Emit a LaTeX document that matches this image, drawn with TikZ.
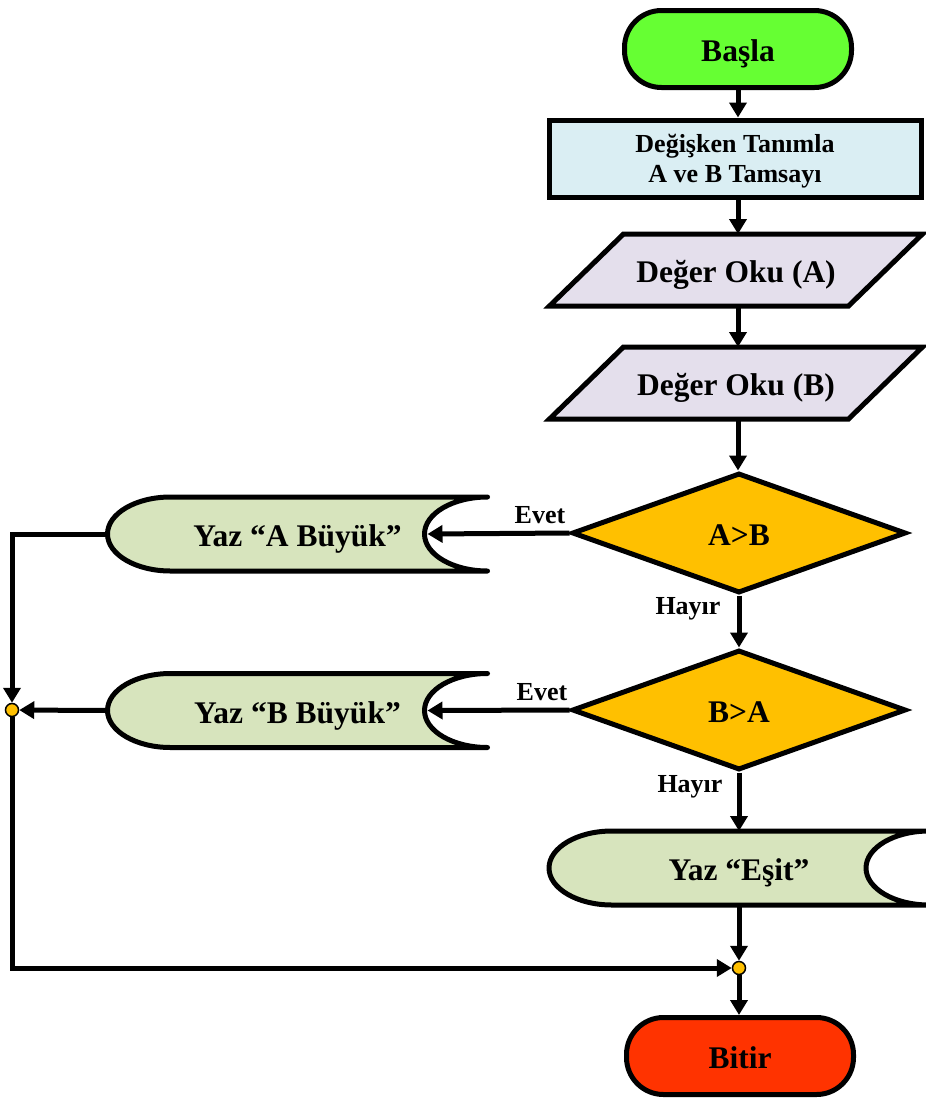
\documentclass[tikz,border=0pt]{standalone}
\usepackage{fontspec}
\setmainfont{Liberation Serif}
\usetikzlibrary{shapes.geometric,arrows.meta,calc}
\definecolor{startgreen}{HTML}{66FF33}
\definecolor{declblue}{HTML}{DAEEF3}
\definecolor{inputlav}{HTML}{E4DFEC}
\definecolor{decgold}{HTML}{FFC000}
\definecolor{outgreen}{HTML}{D7E4BD}
\definecolor{endred}{HTML}{FF3300}
\begin{document}
\begin{tikzpicture}[x=1pt,y=-1pt,line width=5pt,
  big/.style={font=\fontsize{31.5}{37}\selectfont\bfseries,text height=25pt,text depth=0pt},
  small/.style={font=\fontsize{26}{30}\selectfont\bfseries},
  terminal/.style={draw,rounded corners=37pt,minimum width=227pt,minimum height=77pt,inner sep=0pt,big},
  holder/.style={inner sep=0pt,outer sep=0pt,align=center},
  decision/.style={diamond,draw,fill=decgold,minimum width=334pt,minimum height=120pt,inner sep=0pt,big},
  flow/.style={-{Triangle[length=15pt,width=17pt]},line width=5pt},
  joint/.style={circle,draw,fill=decgold,line width=1.5pt,minimum size=13pt,inner sep=0pt},
  lbl/.style={small,inner sep=0pt},
  outshape/.style={draw,fill=outgreen,line cap=round,line join=round}]
\useasboundingbox (0,0) rectangle (926,1098);

% start / declaration
\node[terminal,fill=startgreen] (start) at (738,49) {Başla};
\node[draw,fill=declblue,minimum width=372pt,minimum height=77pt,inner sep=0pt] (decl) at (735,158.5) {};
\node[small,align=center,inner sep=0pt] (declText) at ($(decl)+(0,3)$) {Değişken Tanımla\\A ve B Tamsayı};

% input parallelograms
\foreach \nm/\cy/\txt in {readA/270/{Değer Oku (A)},readB/383/{Değer Oku (B)}}{
  \node[holder,minimum width=299pt,minimum height=72pt] (\nm) at (736,\cy) {};
  \draw[fill=inputlav] ($(\nm.north west)+(37,0)$) -- ($(\nm.north east)+(37,0)$)
     -- ($(\nm.south east)+(-37,0)$) -- ($(\nm.south west)+(-37,0)$) -- cycle;
  \node[big,inner sep=0pt] at (\nm) {\txt};
}

% decisions
\node[decision] (cmpAB) at (739,533) {A>B};
\node[decision] (cmpBA) at (739,710) {B>A};

% output (stored-data style) shapes
\foreach \nm/\cx/\cy in {outA/297.5/534,outB/297.5/710.5,outE/739/868}{
  \node[holder,minimum width=380pt,minimum height=74pt] (\nm) at (\cx,\cy) {};
  \draw[outshape] (\nm.north east) -- ($(\nm.north west)+(63,0)$)
     arc[start angle=90,end angle=270,x radius=63pt,y radius=37pt]
     -- (\nm.south east)
     arc[start angle=270,end angle=90,x radius=63pt,y radius=37pt];
  \coordinate (\nm-in) at ($(\nm.east)+(-60,0)$);
}
\node[big,inner sep=0pt] at (outA) {Yaz “A Büyük”};
\node[big,inner sep=0pt] at (outB) {Yaz “B Büyük”};
\node[big,inner sep=0pt] at (outE) {Yaz “Eşit”};

% end
\node[terminal,fill=endred] (stop) at (740,1056) {Bitir};

% junctions
\node[joint] (j1) at (12,710) {};
\node[joint] (j2) at (739,968) {};

% connectors
\draw[flow] (start.south) -- (start.south |- decl.north);
\draw[flow] (start.south |- decl.south) -- (start.south |- readA.north);
\draw[flow] (start.south |- readA.south) -- (start.south |- readB.north);
\draw[flow] (start.south |- readB.south) -- (start.south |- cmpAB.north);
\draw[flow] (cmpAB.west) -- (outA-in);
\draw[flow] (cmpAB.south) -- (cmpBA.north);
\draw[flow] (cmpBA.west) -- (outB-in);
\draw[flow] (cmpBA.south) -- (cmpBA.south |- outE.north);
\draw[flow] (outA.west) -| (j1);
\draw[flow] (outB.west) -- (j1);
\draw[flow] (j1) |- (j2);
\draw[flow] (outE.south -| j2) -- (j2);
\draw[flow] (j2) -- (j2 |- stop.north);

% branch labels
\node[lbl] (yes1) at (540,515) {Evet};
\node[lbl] (no1) at (688,609) {Hayır};
\node[lbl] (yes2) at (542,692) {Evet};
\node[lbl] (no2) at (690,787) {Hayır};
\end{tikzpicture}
\end{document}
